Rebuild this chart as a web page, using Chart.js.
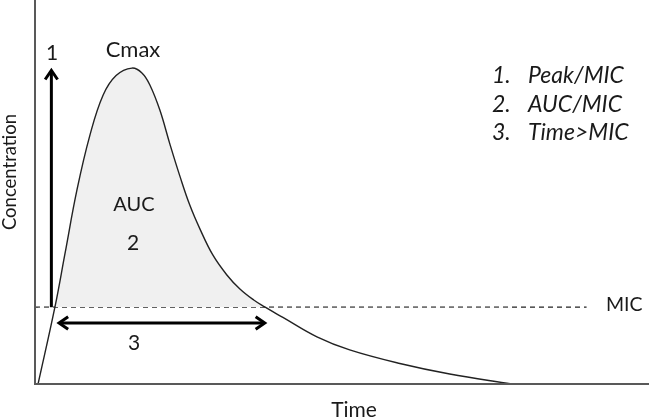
<!DOCTYPE html>
<html>
<head>
<meta charset="utf-8">
<script src="https://cdn.jsdelivr.net/npm/chart.js@4"></script>
<style>
body{margin:0;background:#fff}
#wrap{width:649px;height:420px}
</style>
</head>
<body>
<div id="wrap"><canvas id="graf"></canvas></div>
<script>
// curva de concentração x tempo (unidades arbitrárias)
const tempo = [0.12, 0.78, 1.17, 1.64, 2.15, 2.66, 3.17, 3.79, 4.18, 4.49, 4.88, 5.27, 5.66, 6.05, 6.45, 6.95, 7.50, 8.01, 8.55, 8.98, 9.69, 11.02, 12.30, 14.26, 16.21, 18.63]
const conc  = [0, 3.01, 5.08, 7.58, 9.73, 11.28, 12.05, 12.34, 12.15, 11.68, 10.70, 9.38, 8.13, 6.99, 6.05, 5.04, 4.26, 3.71, 3.28, 3.01, 2.60, 1.84, 1.33, 0.80, 0.39, 0]
const mic = 3.0
const micInicio = 0
const micFim = 21.56
const legenda = ['Peak/MIC', 'AUC/MIC', 'Time>MIC']

const fonte = 'Lato, "Open Sans", sans-serif'
const corTexto = '#1a1a1a'

const curva = tempo.map((t, i) => ({x: t, y: conc[i]}))
const linhaMic = [{x: micInicio, y: mic}, {x: micFim, y: mic}]

function seta(ctx, x1, y1, x2, y2) {
    // ponta aberta em (x2,y2)
    const ang = Math.atan2(y2 - y1, x2 - x1)
    const L = 11, a = 0.6
    ctx.beginPath()
    ctx.moveTo(x2 - L * Math.cos(ang - a), y2 - L * Math.sin(ang - a))
    ctx.lineTo(x2, y2)
    ctx.lineTo(x2 - L * Math.cos(ang + a), y2 - L * Math.sin(ang + a))
    ctx.stroke()
}

function texto(ctx, t, x, y, tam, alinh, estilo) {
    ctx.font = (estilo || '') + ' ' + tam + 'px ' + fonte
    ctx.textAlign = alinh || 'center'
    ctx.fillText(t, x, y)
}

const extras = {
    id: 'extras',
    afterDatasetsDraw(chart) {
        const {ctx, chartArea, scales: {x, y}} = chart
        ctx.save()
        // eixos
        ctx.strokeStyle = '#595959'
        ctx.lineWidth = 2
        ctx.beginPath()
        ctx.moveTo(chartArea.left, chartArea.top)
        ctx.lineTo(chartArea.left, chartArea.bottom)
        ctx.lineTo(chartArea.right, chartArea.bottom)
        ctx.stroke()

        // seta 1 (pico)
        ctx.strokeStyle = '#000'
        ctx.lineWidth = 3
        const xa = x.getPixelForValue(0.64)
        const yBase = y.getPixelForValue(mic)
        const yTopo = y.getPixelForValue(12.25)
        ctx.beginPath()
        ctx.moveTo(xa, yBase)
        ctx.lineTo(xa, yTopo + 1)
        ctx.stroke()
        seta(ctx, xa, yBase, xa, yTopo)

        // seta 3 (tempo > MIC)
        const ys = y.getPixelForValue(2.38)
        const xi = x.getPixelForValue(0.94)
        const xf = x.getPixelForValue(8.98)
        ctx.beginPath()
        ctx.moveTo(xi + 1, ys)
        ctx.lineTo(xf - 1, ys)
        ctx.stroke()
        seta(ctx, xf, ys, xi, ys)
        seta(ctx, xi, ys, xf, ys)

        // textos
        ctx.fillStyle = corTexto
        ctx.textBaseline = 'middle'
        texto(ctx, '1', 52, 53, 21)
        texto(ctx, 'Cmax', 133, 50, 22)
        texto(ctx, 'AUC', 134, 205, 20)
        texto(ctx, '2', 133, 243, 21)
        texto(ctx, '3', 134, 343, 21)
        texto(ctx, 'Time', 354, 410, 21)
        texto(ctx, 'MIC', 606, 305, 19.5, 'left')

        ctx.save()
        ctx.translate(10, 172)
        ctx.rotate(-Math.PI / 2)
        texto(ctx, 'Concentration', 0, 0, 18.5)
        ctx.restore()

        // legenda em itálico
        const yl = [76, 105, 133]
        legenda.forEach((t, i) => {
            texto(ctx, (i + 1) + '.', 492, yl[i], 23, 'left', 'italic')
            texto(ctx, t, 528, yl[i], 23, 'left', 'italic')
        })
        ctx.restore()
    }
}

new Chart(document.getElementById('graf'), {
    type: 'line',
    data: {
        datasets: [{
            data: curva,
            borderColor: '#222',
            borderWidth: 1.4,
            pointRadius: 0,
            tension: 0.4,
            fill: {target: {value: mic}, above: '#f0f0f0', below: 'rgba(0,0,0,0)'}
        }, {
            data: linhaMic,
            borderColor: '#222',
            borderWidth: 1.2,
            borderDash: [5, 4],
            pointRadius: 0,
            fill: false
        }]
    },
    options: {
        responsive: true,
        maintainAspectRatio: false,
        animation: false,
        layout: {padding: {left: 35, right: 0, top: 0, bottom: 36}},
        plugins: {legend: {display: false}, tooltip: {enabled: false}},
        scales: {
            x: {type: 'linear', min: 0, max: 24, display: false},
            y: {min: 0, max: 15, display: false}
        }
    },
    plugins: [extras]
})
</script>
</body>
</html>
